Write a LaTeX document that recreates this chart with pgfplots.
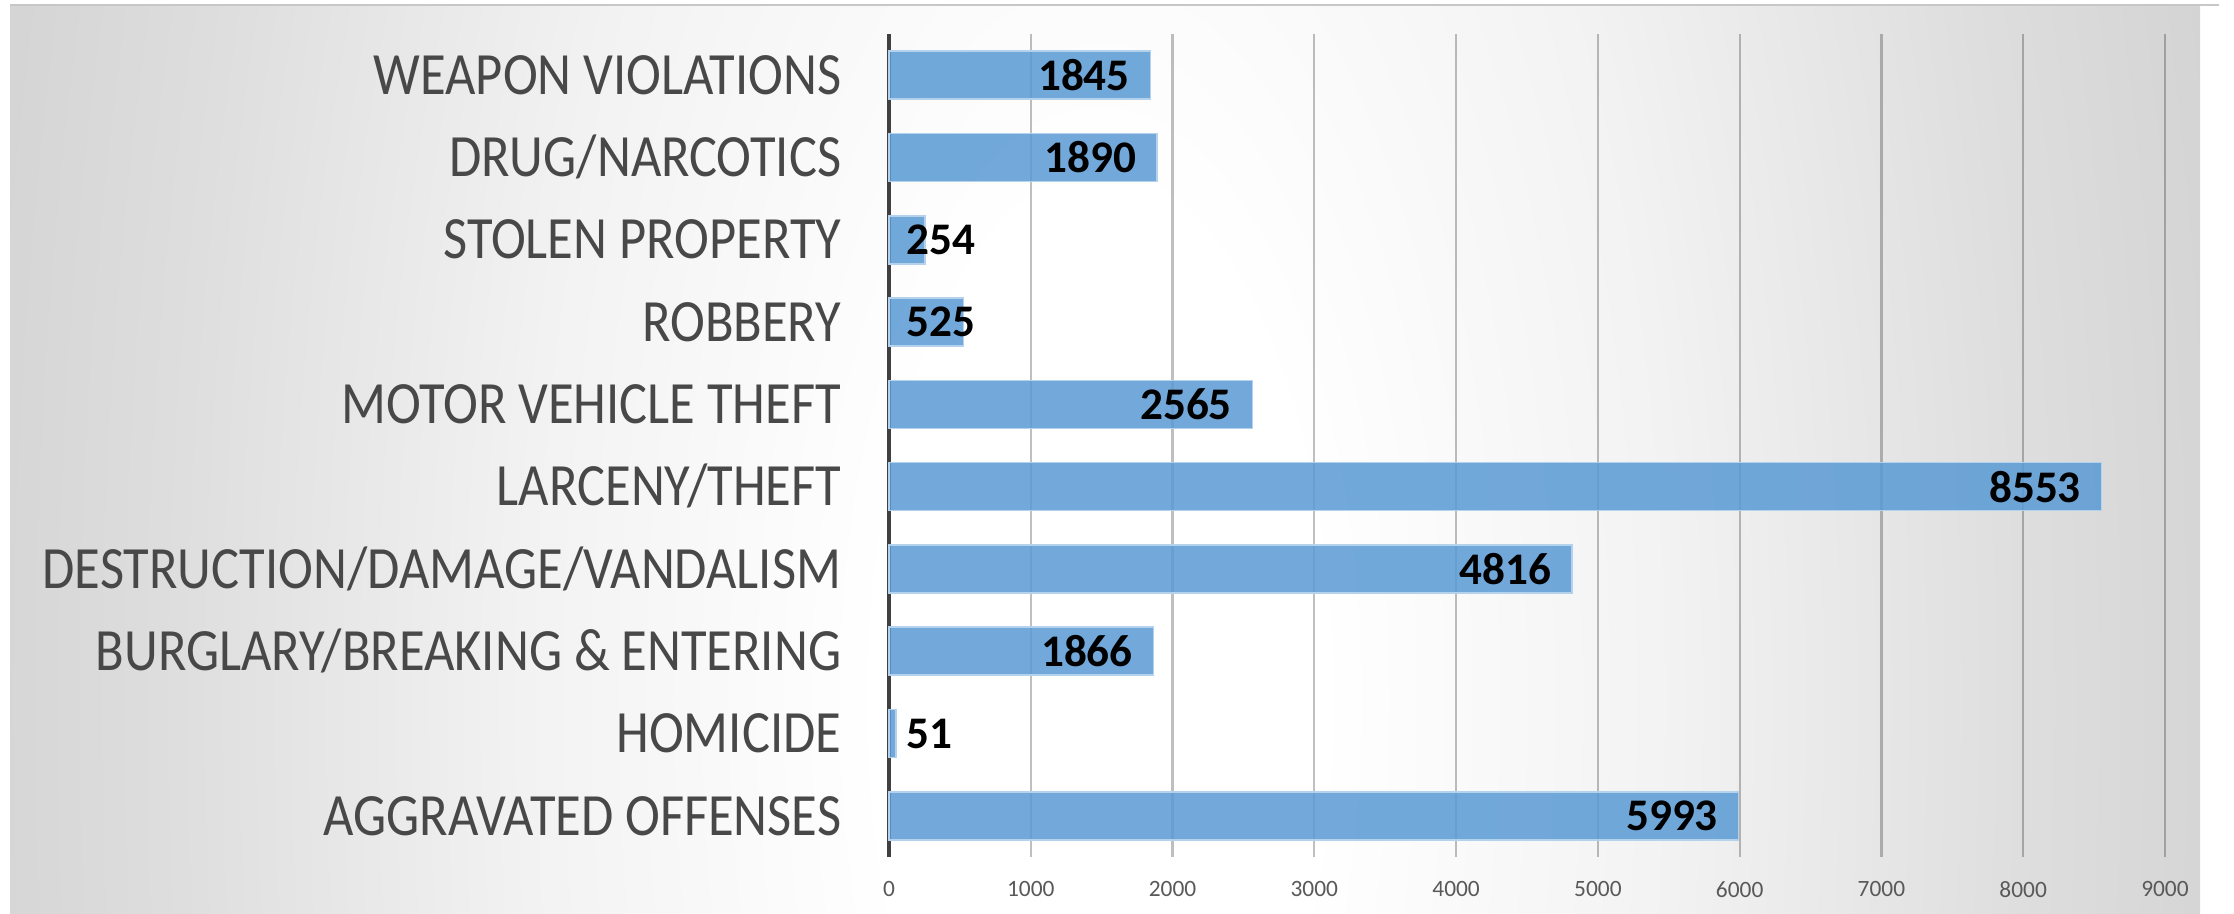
\documentclass[border=0pt]{standalone}
\usepackage{fontspec}
\setmainfont{Carlito}
\usepackage{graphicx}
\usepackage{pgfplots}
\pgfplotsset{compat=1.18}
\usepackage{pgfplotstable}

\definecolor{barblue}{HTML}{5B9BD5}
\definecolor{catgray}{HTML}{484848}
\definecolor{tickgray}{HTML}{595959}
\definecolor{axisdark}{HTML}{404040}

\pgfdeclareradialshading{bgshade}{\pgfpoint{0bp}{0bp}}{color(0bp)=(white); color(5bp)=(white); color(13bp)=(black!5); color(21bp)=(black!13); color(30bp)=(black!20); color(36bp)=(black!24); color(55bp)=(black!30); color(75bp)=(black!32)}

\pgfkeys{/pgf/number format/1000 sep={}}

% all bars
\pgfplotstableread{
y x
0 5993
1 51
2 1866
3 4816
4 8553
5 2565
6 525
7 254
8 1890
9 1845
}\datatable
% bars whose label sits inside the end
\pgfplotstableread{
y x
0 5993
2 1866
3 4816
4 8553
5 2565
8 1890
9 1845
}\bigtable
% short bars: label starts just right of the axis
\pgfplotstableread{
y x
1 51
6 525
7 254
}\smalltable

\newcommand\cat[1]{\scalebox{0.875}[1]{#1}}

\begin{document}
\begin{tikzpicture}
\useasboundingbox (0,0) rectangle (558.5pt,228.25pt);
\begin{scope}
\clip (2.5pt,0pt) rectangle (554.75pt,227pt);
\begin{scope}[transform canvas={shift={(275pt,53.25pt)}, yscale=2.27}]
\shade[shading=bgshade] (-275pt,-275pt) rectangle (275pt,275pt);
\end{scope}
\end{scope}
\draw[black!22, line width=0.6pt] (2.5pt,227pt) -- (554.75pt,227pt);
\begin{axis}[
  at={(222.25pt,14pt)}, anchor=south west,
  scale only axis, width=319pt, height=205.75pt,
  xmin=0, xmax=9000, ymin=-0.5, ymax=9.5,
  axis line style={draw=none},
  major tick length=0pt,
  xtick={1000,2000,...,9000},
  extra x ticks={0},
  extra x tick style={grid style={axisdark, opacity=1, line width=1.1pt}},
  xmajorgrids,
  grid style={black, opacity=0.25, line width=0.55pt},
  scaled x ticks=false,
  /pgf/number format/assume math mode=true,
  x tick label style={font=\fontsize{5.85}{6}\selectfont, text=tickgray, anchor=north, inner sep=0pt, yshift=-5.9pt},
  ytick={0,...,9},
  yticklabels={\cat{AGGRAVATED OFFENSES}, \cat{HOMICIDE}, \cat{BURGLARY/BREAKING \& ENTERING}, \cat{DESTRUCTION/DAMAGE/VANDALISM}, \cat{LARCENY/THEFT}, \cat{MOTOR VEHICLE THEFT}, \cat{ROBBERY}, \cat{STOLEN PROPERTY}, \cat{DRUG/NARCOTICS}, \cat{WEAPON VIOLATIONS}},
  y tick label style={font=\fontsize{15}{15}\selectfont, text=catgray, anchor=base east, inner sep=0pt, xshift=-11.75pt, yshift=-4.8pt},
  clip=false,
]
\addplot[xbar, bar width=12pt, fill=barblue, fill opacity=0.86, draw=barblue!45, line width=0.4pt]
  table[x=x,y=y]{\datatable};
\addplot[draw=none, mark=none, point meta=explicit,
  nodes near coords={\pgfmathprintnumber[assume math mode=true,1000 sep={}]{\pgfplotspointmeta}},
  nodes near coords style={font=\bfseries\fontsize{11.3}{12}\selectfont, text=black, anchor=east, xshift=-5pt, inner sep=0pt},
] table[x=x,y=y,meta=x]{\bigtable};
\addplot[draw=none, mark=none, point meta=explicit,
  nodes near coords={\pgfmathprintnumber[assume math mode=true,1000 sep={}]{\pgfplotspointmeta}},
  nodes near coords style={font=\bfseries\fontsize{11.3}{12}\selectfont, text=black, anchor=west, xshift=4.25pt, inner sep=0pt},
] table[x expr=0,y=y,meta=x]{\smalltable};
\end{axis}
\end{tikzpicture}
\end{document}
